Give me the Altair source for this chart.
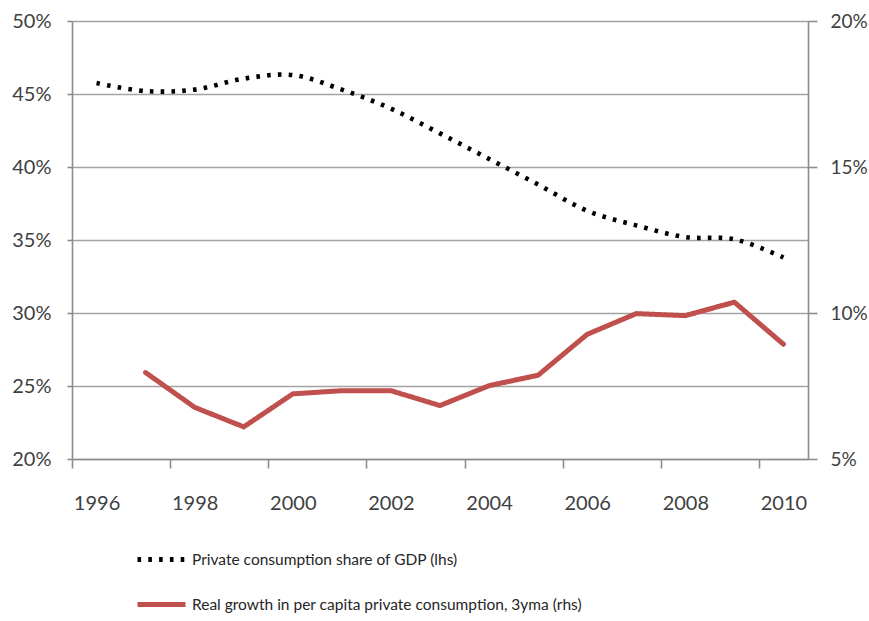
import altair as alt
import pandas as pd

# ---- data ----
years = list(range(1996, 2011))
share_gdp = [45.75, 45.2, 45.3, 46.05, 46.3, 45.3, 44.0, 42.3, 40.55, 38.8, 37.0, 36.0, 35.2, 35.05, 33.8]

growth_years = list(range(1997, 2011))
growth_3yma = [7.96, 6.77, 6.10, 7.23, 7.34, 7.34, 6.83, 7.51, 7.87, 9.27, 9.98, 9.91, 10.37, 8.93]

series_names = [
    "Private consumption share of GDP (lhs)",
    "Real growth in per capita private consumption, 3yma (rhs)",
]
left_ticks = [20, 25, 30, 35, 40, 45, 50]
right_ticks = [5, 10, 15, 20]
x_tick_bounds = [1995.5, 1997.5, 1999.5, 2001.5, 2003.5, 2005.5, 2007.5, 2009.5]

df1 = pd.DataFrame({"year": years, "value": share_gdp, "series": series_names[0]})
df2 = pd.DataFrame({"year": growth_years, "value": growth_3yma, "series": series_names[1]})

W, H = 736, 438
FONT = "Lato"
GRID = "#A3A3A3"
AXIS = "#8C8C8C"
TXT = "#404040"

x_enc = alt.X(
    "year:Q",
    scale=alt.Scale(domain=[1995.5, 2010.5], nice=False, zero=False),
    axis=alt.Axis(
        values=x_tick_bounds,
        labelExpr="format(datum.value + 0.5, 'd')",
        labelOffset=W / 30,
        tickSize=9,
        labelPadding=25,
        grid=False,
        title=None,
        labelFontSize=20,
        labelFlush=False,
        labelOverlap=False,
    ),
)

color_scale = alt.Scale(domain=series_names, range=["#000000", "#C0504D"])


def make_legend(enc_key):
    kw = dict(
        title=None,
        orient="none",
        legendX=63,
        legendY=512,
        direction="vertical",
        symbolType="stroke",
        symbolSize=2304,
        symbolStrokeWidth=5,
        symbolOpacity=1,
        labelFont=FONT,
        labelFontSize=15.5,
        labelColor="#262626",
        labelOffset=4,
        rowPadding=8,
        labelLimit=600,
    )
    if enc_key:
        kw[enc_key] = {
            "symbols": {
                "update": {
                    "strokeCap": {"value": "round"},
                    "strokeWidth": {"value": 5},
                    "opacity": {"value": 1},
                }
            }
        }
    return alt.Legend(**kw)


def build(enc_key):
    if enc_key:
        dots = [0.1, 10.8]
        cap = "round"
    else:
        dots = [3.6, 7.2]
        cap = "butt"
    dash_scale = alt.Scale(domain=series_names, range=[dots, [1, 0]])
    leg = make_legend(enc_key)
    color_enc = alt.Color("series:N", scale=color_scale, legend=leg)
    dash_enc = alt.StrokeDash("series:N", scale=dash_scale, legend=leg)

    left = alt.Chart(df1).mark_line(
        strokeWidth=4.6, strokeCap=cap, interpolate="catmull-rom"
    ).encode(
        x=x_enc,
        y=alt.Y(
            "value:Q",
            scale=alt.Scale(domain=[20, 50], nice=False, zero=False),
            axis=alt.Axis(
                values=left_ticks,
                labelExpr="datum.value + '%'",
                orient="left",
                tickSize=5,
                labelPadding=16,
                grid=True,
                gridColor=GRID,
                gridWidth=1.6,
                title=None,
                labelFontSize=20,
            ),
        ),
        color=color_enc,
        strokeDash=dash_enc,
    )

    right = alt.Chart(df2).mark_line(
        strokeWidth=5, strokeCap="round", strokeJoin="round"
    ).encode(
        x=x_enc,
        y=alt.Y(
            "value:Q",
            scale=alt.Scale(domain=[5, 20], nice=False, zero=False),
            axis=alt.Axis(
                values=right_ticks,
                labelExpr="datum.value + '%'",
                orient="right",
                tickSize=9,
                labelPadding=13,
                grid=False,
                title=None,
                labelFontSize=19,
            ),
        ),
        color=color_enc,
        strokeDash=dash_enc,
    )

    chart = (
        alt.layer(left, right)
        .resolve_scale(y="independent")
        .properties(
            width=W,
            height=H,
            autosize=alt.AutoSizeParams(type="none"),
            padding={"left": 72, "top": 21, "right": 61, "bottom": 162},
            background="white",
        )
        .configure_view(stroke=None)
        .configure_axis(
            domainColor=AXIS,
            domainWidth=1.6,
            tickColor=AXIS,
            tickWidth=1.6,
            labelFont=FONT,
            labelColor=TXT,
        )
    )
    return chart


chart = None
for key in ["encode", None]:
    try:
        c = build(key)
        c.to_dict()
        chart = c
        break
    except Exception:
        continue

chart.save("out.html", embed_options={"renderer": "svg", "actions": False})
